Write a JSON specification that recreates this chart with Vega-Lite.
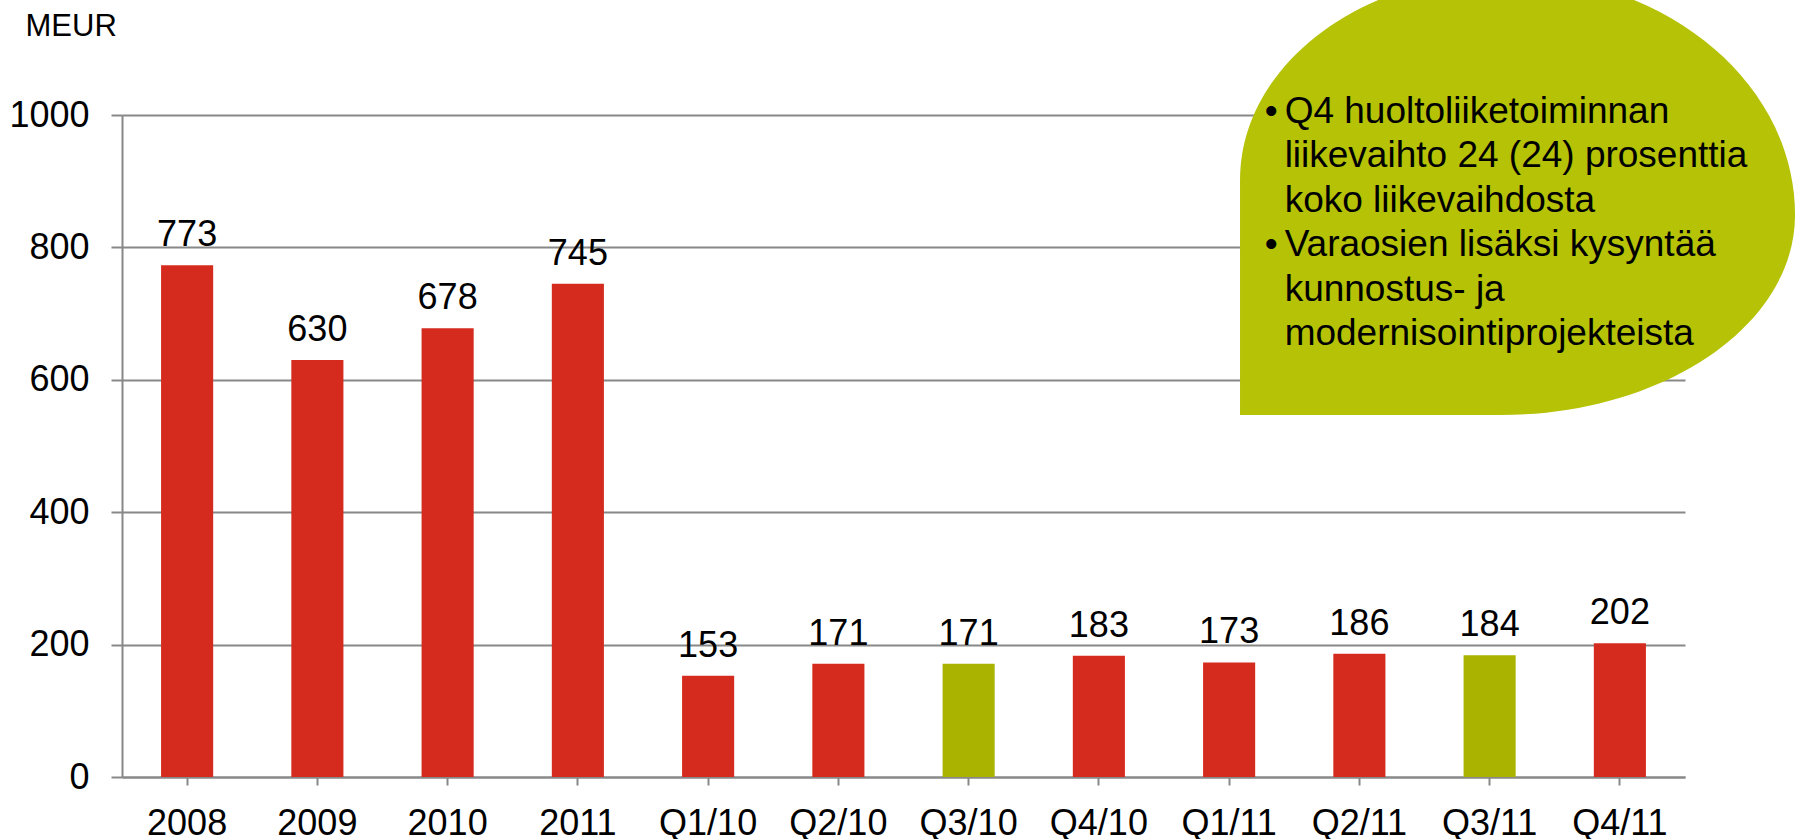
{
  "$schema": "https://vega.github.io/schema/vega-lite/v6.json",
  "autosize": "none",
  "padding": {"left": 122, "top": 115, "right": 115, "bottom": 62},
  "width": 1563,
  "height": 662,
  "background": "white",
  "config": {
    "view": {"stroke": null},
    "font": "Liberation Sans",
    "text": {"font": "Liberation Sans"}
  },
  "datasets": {
    "bars": [
      {"period": "2008", "value": 773, "kind": "muu"},
      {"period": "2009", "value": 630, "kind": "muu"},
      {"period": "2010", "value": 678, "kind": "muu"},
      {"period": "2011", "value": 745, "kind": "muu"},
      {"period": "Q1/10", "value": 153, "kind": "muu"},
      {"period": "Q2/10", "value": 171, "kind": "muu"},
      {"period": "Q3/10", "value": 171, "kind": "Q3"},
      {"period": "Q4/10", "value": 183, "kind": "muu"},
      {"period": "Q1/11", "value": 173, "kind": "muu"},
      {"period": "Q2/11", "value": 186, "kind": "muu"},
      {"period": "Q3/11", "value": 184, "kind": "Q3"},
      {"period": "Q4/11", "value": 202, "kind": "muu"}
    ]
  },
  "layer": [
    {
      "data": {"name": "bars"},
      "mark": {"type": "bar"},
      "encoding": {
        "x": {
          "field": "period",
          "type": "nominal",
          "sort": null,
          "scale": {"paddingInner": 0.6, "paddingOuter": 0.3},
          "axis": {
            "title": null,
            "labelAngle": 0,
            "labelFontSize": 36,
            "labelColor": "#000000",
            "labelFont": "Liberation Sans",
            "labelPadding": 21,
            "labelBaseline": "top",
            "domainColor": "#888888",
            "domainWidth": 2,
            "tickColor": "#888888",
            "tickWidth": 2,
            "tickSize": 8,
            "grid": false
          }
        },
        "y": {
          "field": "value",
          "type": "quantitative",
          "scale": {"domain": [0, 1000], "nice": false},
          "axis": {
            "values": [0, 200, 400, 600, 800, 1000],
            "format": "d",
            "title": "MEUR",
            "titleAngle": 0,
            "titleAlign": "left",
            "titleBaseline": "alphabetic",
            "titleX": -97,
            "titleY": -80,
            "titleFontSize": 31,
            "titleFontWeight": "normal",
            "titleFont": "Liberation Sans",
            "titleColor": "#000000",
            "labelFontSize": 36,
            "labelColor": "#000000",
            "labelFont": "Liberation Sans",
            "labelPadding": 22,
            "domainColor": "#888888",
            "domainWidth": 2,
            "tickColor": "#888888",
            "tickWidth": 2,
            "tickSize": 11,
            "grid": true,
            "gridColor": "#888888",
            "gridWidth": 2
          }
        },
        "color": {
          "field": "kind",
          "type": "nominal",
          "scale": {"domain": ["muu", "Q3"], "range": ["#D52B1E", "#AAB400"]},
          "legend": null
        }
      }
    },
    {
      "data": {"name": "bars"},
      "mark": {"type": "text", "baseline": "alphabetic", "align": "center", "dy": -19, "fontSize": 36, "color": "#000000"},
      "encoding": {
        "x": {"field": "period", "type": "nominal", "sort": null},
        "y": {"field": "value", "type": "quantitative"},
        "text": {"field": "value", "type": "quantitative"}
      }
    },
    {
      "data": {"values": [{"note": "bubble"}]},
      "mark": {
        "type": "point",
        "filled": true,
        "opacity": 1,
        "strokeWidth": 0,
        "color": "#B5C206",
        "shape": "M -0.9984 1.2 L -0.9984 0.26 C -0.9984 -0.1929 -0.5216 -0.56 0.0616 -0.56 C 0.7023 -0.56 1.2216 -0.1302 1.2216 0.4 C 1.2216 0.8418 0.6933 1.2 0.0416 1.2 Z",
        "size": 250000
      },
      "encoding": {
        "x": {"datum": "Q3/11", "type": "nominal"},
        "y": {"datum": 1000, "type": "quantitative"}
      }
    },
    {
      "data": {"values": [{"bullet": "•"}]},
      "mark": {"type": "text", "align": "left", "baseline": "alphabetic", "fontSize": 37, "dx": -225, "dy": 8, "color": "#000000"},
      "encoding": {
        "x": {"datum": "Q3/11", "type": "nominal"},
        "y": {"datum": 1000, "type": "quantitative"},
        "text": {"field": "bullet"}
      }
    },
    {
      "data": {"values": [{"bullet": "•"}]},
      "mark": {"type": "text", "align": "left", "baseline": "alphabetic", "fontSize": 37, "dx": -225, "dy": 141.2, "color": "#000000"},
      "encoding": {
        "x": {"datum": "Q3/11", "type": "nominal"},
        "y": {"datum": 1000, "type": "quantitative"},
        "text": {"field": "bullet"}
      }
    },
    {
      "data": {"values": [{"lines": ["Q4 huoltoliiketoiminnan", "liikevaihto 24 (24) prosenttia", "koko liikevaihdosta", "Varaosien lisäksi kysyntää", "kunnostus- ja", "modernisointiprojekteista"]}]},
      "mark": {"type": "text", "align": "left", "baseline": "alphabetic", "fontSize": 37, "lineHeight": 44.4, "dx": -205, "dy": 8, "color": "#000000"},
      "encoding": {
        "x": {"datum": "Q3/11", "type": "nominal"},
        "y": {"datum": 1000, "type": "quantitative"},
        "text": {"field": "lines"}
      }
    }
  ]
}
